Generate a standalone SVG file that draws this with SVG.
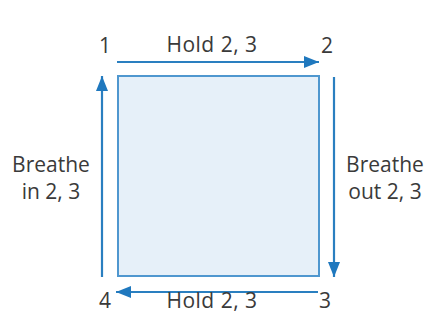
<svg xmlns="http://www.w3.org/2000/svg" width="432" height="325" viewBox="0 0 432 325">
<style>
text{font-family:"Open Sans","Noto Sans","Liberation Sans",sans-serif;font-size:21px;fill:#3a3a3a}
.c{text-anchor:middle}
.arr{stroke:#2a7fc0;stroke-width:2.2;fill:none;marker-end:url(#ah)}
</style>
<defs>
<marker id="ah" markerUnits="userSpaceOnUse" markerWidth="15" markerHeight="12" viewBox="0 0 15 12" refX="15" refY="6" orient="auto">
<path d="M0,0 L15,6 L0,12 Z" fill="#1f78be"/>
</marker>
</defs>
<rect width="432" height="325" fill="#ffffff"/>
<g id="square">
<rect x="118" y="76" width="201" height="200" fill="#e6f0f9" stroke="#4f97cf" stroke-width="2"/>
</g>
<g id="connectors">
<line class="arr" x1="117" y1="62" x2="319" y2="62"/>
<line class="arr" x1="334" y1="77" x2="334" y2="277"/>
<line class="arr" x1="318" y1="292" x2="116" y2="292"/>
<line class="arr" x1="102" y1="277" x2="102" y2="76"/>
</g>
<g id="n1"><text x="105" y="53" class="c">1</text></g>
<g id="n2"><text x="327" y="53" class="c">2</text></g>
<g id="n3"><text x="325" y="308" class="c">3</text></g>
<g id="n4"><text x="105" y="308" class="c">4</text></g>
<g id="top-label"><text x="212" y="52" class="c" letter-spacing="0.5">Hold 2, 3</text></g>
<g id="bottom-label"><text x="212" y="308" class="c" letter-spacing="0.5">Hold 2, 3</text></g>
<g id="left-label"><text x="51" y="172" class="c">Breathe</text><text x="51" y="199" class="c">in 2, 3</text></g>
<g id="right-label"><text x="385" y="172" class="c">Breathe</text><text x="385" y="199" class="c">out 2, 3</text></g>
</svg>
